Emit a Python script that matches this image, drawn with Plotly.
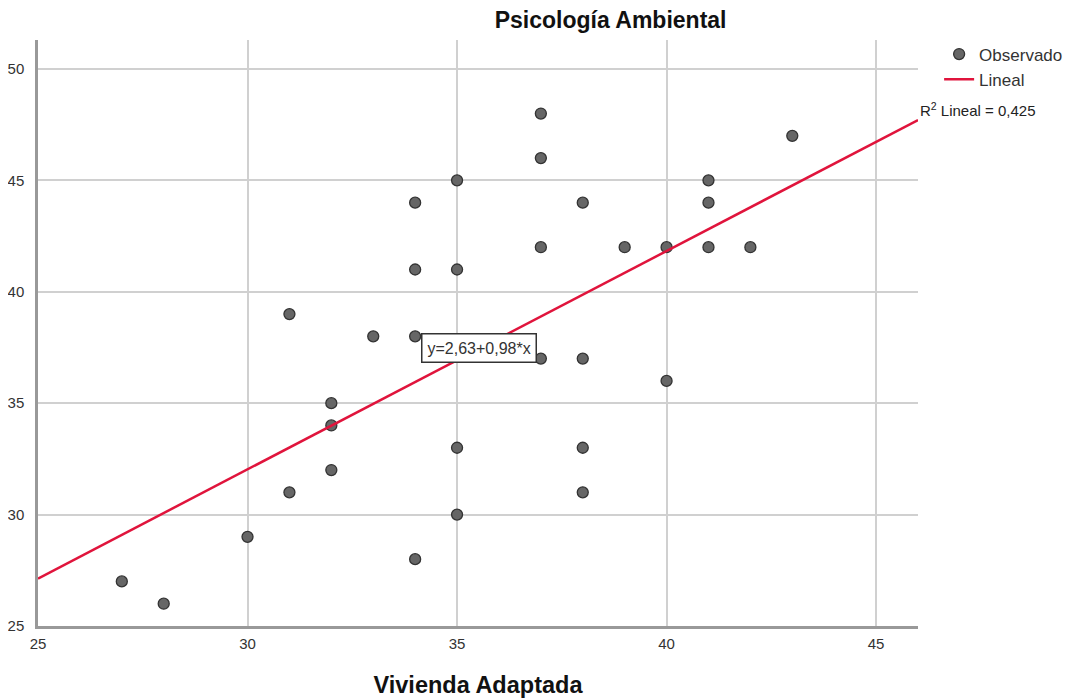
import plotly.graph_objects as go

x_vals = [27, 28, 30, 31, 31, 32, 32, 32, 33, 34, 34, 34, 34, 35, 35, 35, 35,
          37, 37, 37, 37, 38, 38, 38, 38, 39, 40, 40, 41, 41, 41, 42, 43]
y_vals = [27, 26, 29, 39, 31, 35, 34, 32, 38, 44, 41, 38, 28, 45, 41, 33, 30,
          48, 46, 42, 37, 44, 37, 33, 31, 42, 42, 36, 45, 44, 42, 42, 47]
intercept = 2.63
slope = 0.98
r2_text = "0,425"
line_x = [25, 46]
line_y = [intercept + slope * v for v in line_x]

fig = go.Figure()
fig.add_trace(go.Scatter(
    x=x_vals, y=y_vals, mode="markers", name="Observado",
    marker=dict(size=11, color="#666666", line=dict(color="#333333", width=1.3)),
))
fig.add_trace(go.Scatter(
    x=line_x, y=line_y, mode="lines", name="Lineal",
    line=dict(color="#E0143C", width=2.5),
))

fig.update_layout(
    width=1078, height=690,
    margin=dict(l=30, r=168, t=32, b=72),
    plot_bgcolor="white", paper_bgcolor="white",
    font=dict(family="Liberation Sans, Arial, sans-serif", size=15, color="#333333"),
    title=dict(text="<b>Psicología Ambiental</b>", x=0.559, xanchor="center",
               y=0.982, yanchor="middle", font=dict(size=23, color="#111111")),
    xaxis=dict(range=[25, 46], tickvals=[25, 30, 35, 40, 45], showgrid=True,
               gridcolor="#D0D0D0", gridwidth=2, showline=True, linecolor="#999999",
               linewidth=2.5, zeroline=False, ticks="", ticklabelstandoff=2,
               automargin=False, tickfont=dict(size=15, color="#333333"),
               title=dict(text="<b>Vivienda Adaptada</b>", font=dict(size=23.5, color="#111111"),
                          standoff=30)),
    yaxis=dict(range=[25, 51.3], tickvals=[25, 30, 35, 40, 45, 50], showgrid=True,
               gridcolor="#D0D0D0", gridwidth=2, showline=True, linecolor="#999999",
               linewidth=2.5, zeroline=False, ticks="", ticklabelstandoff=8,
               automargin=False, tickfont=dict(size=15, color="#333333")),
    legend=dict(x=1.024, y=1.006, xanchor="left", yanchor="top",
                font=dict(size=17, color="#333333"), tracegroupgap=0,
                bgcolor="rgba(0,0,0,0)"),
    showlegend=True,
)

fig.add_annotation(
    x=1.0, y=48.2, xref="paper", yref="y", xanchor="left", yanchor="middle",
    text="R<sup>2</sup> Lineal = " + r2_text, showarrow=False,
    font=dict(size=15, color="#222222"),
)
fig.add_annotation(
    x=35.53, y=37.48, xref="x", yref="y", xanchor="center", yanchor="middle",
    text="y=2,63+0,98*x", showarrow=False, bgcolor="white",
    bordercolor="#333333", borderwidth=1.5, borderpad=5,
    font=dict(size=16, color="#333333"),
)

fig.write_html("out.html")
